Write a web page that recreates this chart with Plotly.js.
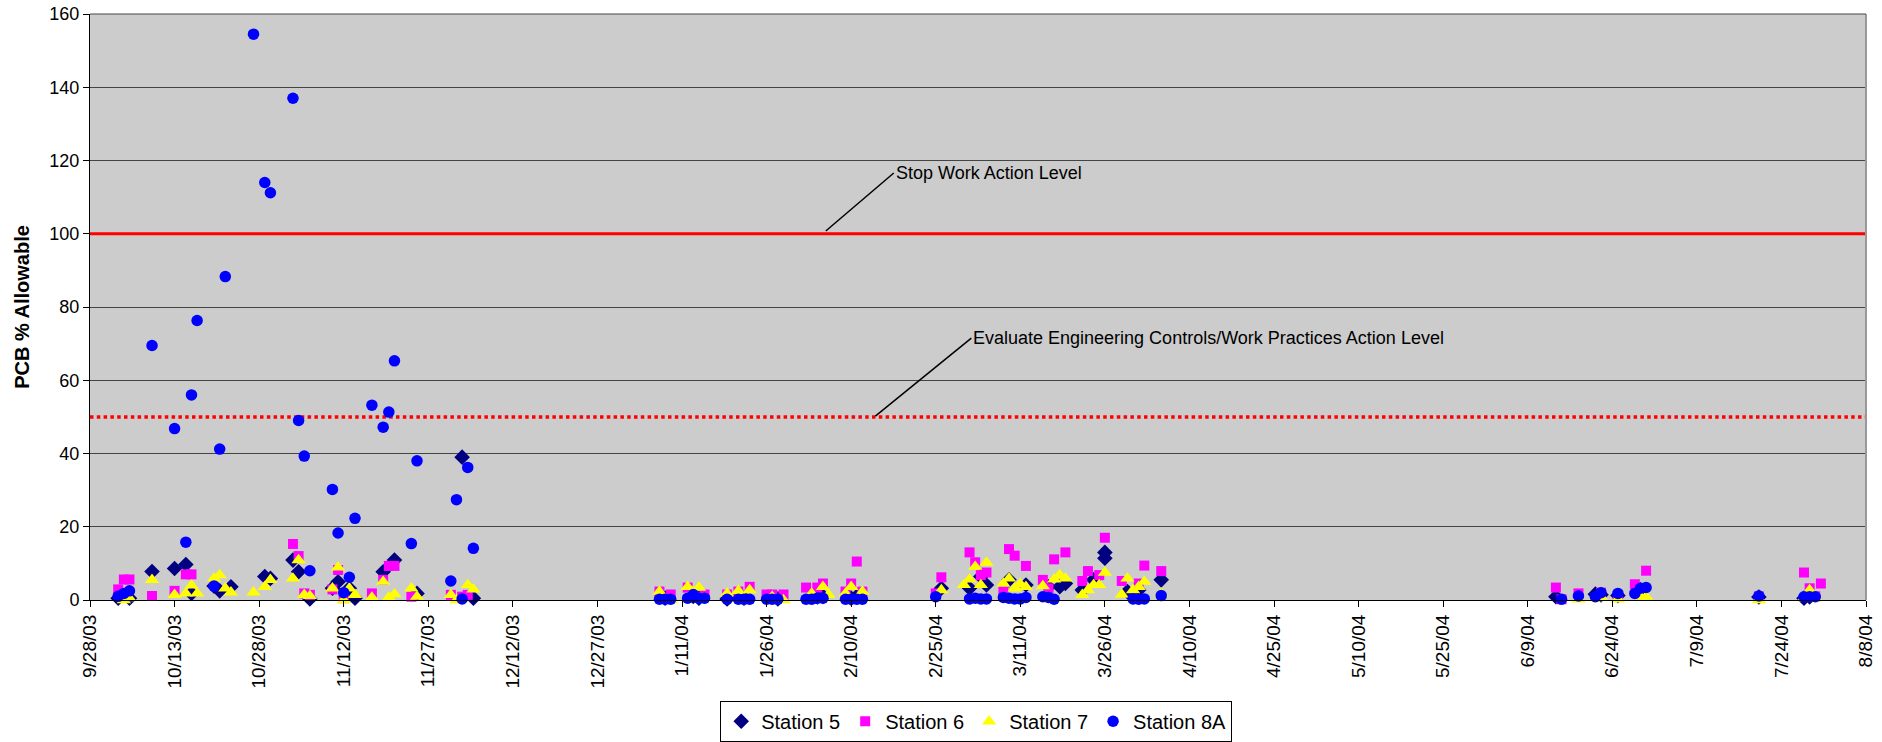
<!DOCTYPE html>
<html>
<head>
<meta charset="utf-8">
<script src="https://cdn.plot.ly/plotly-3.0.1.min.js"></script>
<style>
html,body{margin:0;padding:0;background:#ffffff;}
#chart{width:1882px;height:742px;}
</style>
</head>
<body>
<div id="chart"></div>
<script>
// ---------- tick labels ----------
const tickDates = ['2003-09-28','2003-10-13','2003-10-28','2003-11-12','2003-11-27','2003-12-12','2003-12-27',
  '2004-01-11','2004-01-26','2004-02-10','2004-02-25','2004-03-11','2004-03-26','2004-04-10','2004-04-25',
  '2004-05-10','2004-05-25','2004-06-09','2004-06-24','2004-07-09','2004-07-24','2004-08-08'];
const tickLabels = ['9/28/03','10/13/03','10/28/03','11/12/03','11/27/03','12/12/03','12/27/03',
  '1/11/04','1/26/04','2/10/04','2/25/04','3/11/04','3/26/04','4/10/04','4/25/04',
  '5/10/04','5/25/04','6/9/04','6/24/04','7/9/04','7/24/04','8/8/04'];
const yTickValues = [0,20,40,60,80,100,120,140,160];

// ---------- Station 5 ----------
const station5Dates = ['2003-10-03','2003-10-05','2003-10-09','2003-10-13','2003-10-15','2003-10-16','2003-10-20','2003-10-21','2003-10-23',
  '2003-10-29','2003-10-30','2003-11-03','2003-11-04','2003-11-06','2003-11-10','2003-11-11','2003-11-13','2003-11-14','2003-11-19','2003-11-21',
  '2003-11-25','2003-12-03','2003-12-05',
  '2004-01-08','2004-01-13','2004-01-14','2004-01-19','2004-01-22','2004-01-28','2004-02-04','2004-02-05','2004-02-10','2004-02-11',
  '2004-02-26','2004-03-02','2004-03-04','2004-03-05','2004-03-09','2004-03-12','2004-03-16','2004-03-18','2004-03-19','2004-03-22','2004-03-24',
  '2004-03-26','2004-03-26','2004-03-30','2004-03-31','2004-04-01','2004-04-05',
  '2004-06-14','2004-06-21','2004-06-22','2004-06-25','2004-06-29','2004-07-20','2004-07-28','2004-07-29'];
const station5Values = [0.5,0.5,7.8,8.6,9.7,1.8,3.8,2.5,3.6,
  6.4,5.9,10.9,7.7,0.3,3.2,5.0,3.2,0.5,7.7,10.9,
  1.8,39.0,0.5,
  0.5,1.0,0.5,0.3,0.5,0.3,0.8,1.0,0.5,1.0,
  3.2,3.2,6.4,4.1,5.5,4.1,3.6,3.6,4.5,2.7,5.5,
  11.4,13.0,2.3,0.9,2.7,5.5,
  0.9,1.6,1.4,1.2,2.8,0.8,0.5,0.8];

// ---------- Station 6 ----------
const station6Dates = ['2003-10-03','2003-10-04','2003-10-05','2003-10-09','2003-10-13','2003-10-15','2003-10-16','2003-11-03','2003-11-04',
  '2003-11-05','2003-11-06','2003-11-10','2003-11-11','2003-11-12','2003-11-17','2003-11-19','2003-11-20','2003-11-21','2003-11-24','2003-12-01',
  '2003-12-03','2003-12-04',
  '2004-01-07','2004-01-09','2004-01-12','2004-01-15','2004-01-19','2004-01-21','2004-01-23','2004-01-26','2004-01-27','2004-01-29',
  '2004-02-02','2004-02-04','2004-02-05','2004-02-09','2004-02-10','2004-02-11','2004-02-12',
  '2004-02-25','2004-02-26','2004-03-02','2004-03-03','2004-03-04','2004-03-05','2004-03-08','2004-03-09','2004-03-10','2004-03-12',
  '2004-03-15','2004-03-16','2004-03-17','2004-03-19','2004-03-22','2004-03-23','2004-03-25','2004-03-26','2004-03-29','2004-04-01',
  '2004-04-02','2004-04-05',
  '2004-06-14','2004-06-15','2004-06-18','2004-06-22','2004-06-25','2004-06-28','2004-06-30','2004-07-20','2004-07-28','2004-07-29',
  '2004-07-30','2004-07-31'];
const station6Values = [2.9,5.6,5.6,1.1,2.5,7.0,7.0,15.3,12.0,
  1.8,1.4,2.9,8.2,0.5,1.8,5.5,9.3,9.3,0.9,1.4,
  0.9,1.4,
  2.3,1.5,3.4,1.5,1.5,2.3,3.6,1.5,1.5,1.5,
  3.4,3.4,4.5,2.3,4.5,10.5,2.3,
  1.8,6.2,13.0,10.3,6.8,7.5,2.5,13.9,12.1,9.3,
  5.5,3.2,11.1,13.0,5.2,7.9,6.8,17.0,5.2,4.5,
  9.4,7.9,
  3.4,0.2,1.8,2.0,1.0,4.3,8.0,1.0,7.5,3.2,
  1.0,4.5];

// ---------- Station 7 ----------
const station7Dates = ['2003-10-04','2003-10-05','2003-10-09','2003-10-13','2003-10-15','2003-10-16','2003-10-17','2003-10-20','2003-10-21',
  '2003-10-22','2003-10-23','2003-10-27','2003-10-29','2003-10-30','2003-11-03','2003-11-04','2003-11-05','2003-11-06','2003-11-10','2003-11-11',
  '2003-11-12','2003-11-13','2003-11-14','2003-11-17','2003-11-19','2003-11-20','2003-11-21','2003-11-24','2003-11-25','2003-12-01',
  '2003-12-02','2003-12-04','2003-12-05',
  '2004-01-07','2004-01-09','2004-01-12','2004-01-13','2004-01-14','2004-01-19','2004-01-21','2004-01-23','2004-01-27','2004-01-29',
  '2004-02-03','2004-02-05','2004-02-06','2004-02-09','2004-02-10','2004-02-12',
  '2004-02-26','2004-03-01','2004-03-02','2004-03-03','2004-03-04','2004-03-05','2004-03-08','2004-03-09','2004-03-10','2004-03-11',
  '2004-03-12','2004-03-15','2004-03-17','2004-03-18','2004-03-19','2004-03-22','2004-03-23','2004-03-24','2004-03-25','2004-03-26',
  '2004-03-29','2004-03-30','2004-03-31','2004-04-01','2004-04-02','2004-04-05',
  '2004-06-18','2004-06-21','2004-06-22','2004-06-25','2004-06-29','2004-06-30','2004-07-20','2004-07-28','2004-07-29','2004-07-30'];
const station7Values = [0,0.5,5.5,1.4,1.8,4.0,1.8,5.9,6.8,
  3.2,2.1,2.1,3.6,5.5,5.9,10.9,1.4,1.1,3.2,8.9,
  0,3.2,1.4,0.7,5.0,0.7,1.6,3.2,0.9,1.4,
  0,4.1,2.9,
  2.3,0,3.6,2.3,3.4,1.8,2.5,2.7,0.9,0,
  1.8,3.6,1.4,1.8,3.6,2.3,
  2.7,4.1,5.6,9.1,4.1,10.2,4.5,5.9,3.2,4.4,
  3.6,3.8,5.6,6.8,5.9,1.4,2.7,4.1,4.1,7.5,
  1.5,5.9,2.7,3.6,5.0,1.8,
  0.2,0.5,0.8,0.2,1.0,0.9,0,0.5,2.7,0.5];

// ---------- Station 8A ----------
const station8ADates = ['2003-10-03','2003-10-04','2003-10-05','2003-10-09','2003-10-13','2003-10-15','2003-10-16','2003-10-17','2003-10-20',
  '2003-10-21','2003-10-22','2003-10-27','2003-10-29','2003-10-30','2003-11-03','2003-11-04','2003-11-05','2003-11-06','2003-11-10','2003-11-11',
  '2003-11-12','2003-11-13','2003-11-14','2003-11-17','2003-11-19','2003-11-20','2003-11-21','2003-11-24','2003-11-25','2003-12-01',
  '2003-12-02','2003-12-03','2003-12-04','2003-12-05',
  '2004-01-07','2004-01-08','2004-01-09','2004-01-12','2004-01-13','2004-01-14','2004-01-15','2004-01-19','2004-01-21','2004-01-22',
  '2004-01-23','2004-01-26','2004-01-27','2004-01-28','2004-02-02','2004-02-03','2004-02-04','2004-02-05','2004-02-09','2004-02-10',
  '2004-02-11','2004-02-12',
  '2004-02-25','2004-03-02','2004-03-03','2004-03-04','2004-03-05','2004-03-08','2004-03-09','2004-03-10','2004-03-11','2004-03-12',
  '2004-03-15','2004-03-16','2004-03-17','2004-03-31','2004-04-01','2004-04-02','2004-04-05',
  '2004-06-15','2004-06-18','2004-06-21','2004-06-22','2004-06-25','2004-06-28','2004-06-29','2004-06-30','2004-07-20','2004-07-28',
  '2004-07-29','2004-07-30'];
const station8AValues = [1.0,1.8,2.5,69.5,46.8,15.8,56.0,76.3,3.8,
  41.2,88.3,154.5,114.0,111.2,137.0,49.0,39.3,8.0,30.2,18.3,
  2.0,6.2,22.3,53.2,47.2,51.3,65.3,15.4,38.0,5.2,
  27.4,0.3,36.2,14.1,
  0.2,0.2,0.2,0.5,1.5,0.5,0.5,0.2,0.2,0.2,
  0.2,0.2,0.2,0.2,0.2,0.2,0.5,0.5,0.2,0.2,
  0.2,0.2,
  0.9,0.3,0.5,0.3,0.3,0.7,0.5,0.3,0.3,0.7,
  0.9,0.7,0.2,0.3,0.2,0.3,1.2,
  0.2,1.1,0.9,2.0,1.8,1.8,3.2,3.4,1.1,0.9,
  0.9,0.9];

// ---------- action levels ----------
const levelDates = ['2003-09-28','2004-08-08'];
const stopWorkLevel = [100,100];
const evaluateLevel = [50,50];

const FONT = 'Arial, "Liberation Sans", Helvetica, sans-serif';

const traces = [
  {x: levelDates, y: stopWorkLevel, type:'scatter', mode:'lines', showlegend:false, hoverinfo:'skip',
   line:{color:'#FF0000', width:3}},
  {x: levelDates, y: evaluateLevel, type:'scatter', mode:'lines', showlegend:false, hoverinfo:'skip',
   line:{color:'#FF0000', width:3.5, dash:'3.5px,3.3px'}},
  {x: station5Dates, y: station5Values, name:'Station 5', type:'scatter', mode:'markers', cliponaxis:false,
   marker:{symbol:'diamond', size:12, color:'#000080'}},
  {x: station6Dates, y: station6Values, name:'Station 6', type:'scatter', mode:'markers', cliponaxis:false,
   marker:{symbol:'square', size:10, color:'#FF00FF'}},
  {x: station7Dates, y: station7Values, name:'Station 7', type:'scatter', mode:'markers', cliponaxis:false,
   marker:{symbol:'triangle-up', size:12.5, color:'#FFFF00'}},
  {x: station8ADates, y: station8AValues, name:'Station 8A', type:'scatter', mode:'markers', cliponaxis:false,
   marker:{symbol:'circle', size:11.5, color:'#0000FF'}}
];

const layout = {
  width:1882, height:742,
  margin:{l:90, r:16, t:14, b:142, pad:0, autoexpand:false},
  paper_bgcolor:'#FFFFFF',
  plot_bgcolor:'#CCCCCC',
  font:{family:FONT, color:'#000000'},
  showlegend:true,
  legend:{orientation:'h', x:0.499, xanchor:'center', y:-0.172, yanchor:'top',
    bgcolor:'#FFFFFF', bordercolor:'#000000', borderwidth:1,
    font:{family:FONT, size:20, color:'#000000'}, itemwidth:30, traceorder:'normal'},
  xaxis:{
    type:'date', range:['2003-09-28','2004-08-08'],
    tickmode:'array', tickvals:tickDates, ticktext:tickLabels,
    tickangle:-90, tickfont:{family:FONT, size:19, color:'#000000'},
    ticks:'outside', ticklen:6, tickcolor:'#000000', tickwidth:1,
    showgrid:false, zeroline:false, showline:true, linecolor:'#000000', linewidth:1,
    automargin:false
  },
  yaxis:{
    range:[0,160], tickmode:'array', tickvals:yTickValues,
    tickfont:{family:FONT, size:18, color:'#000000'},
    ticks:'outside', ticklen:6, tickcolor:'#000000', tickwidth:1,
    showgrid:true, gridcolor:'#444444', gridwidth:1,
    zeroline:false, showline:true, linecolor:'#000000', linewidth:1,
    title:{text:'PCB % Allowable', font:{family:FONT, size:20, color:'#000000', weight:'bold'}, standoff:14},
    automargin:false
  },
  shapes:[
    {type:'line', xref:'paper', yref:'paper', x0:1, x1:1, y0:0, y1:1, line:{color:'#999999', width:2}},
    {type:'line', xref:'paper', yref:'paper', x0:0, x1:1, y0:1, y1:1, line:{color:'#444444', width:1}}
  ],
  annotations:[
    {x:'2004-02-05 12:00', y:100.75, xref:'x', yref:'y', text:'Stop Work Action Level',
     showarrow:true, arrowhead:0, arrowwidth:1.5, arrowcolor:'#000000', ax:68, ay:-58,
     xanchor:'left', yanchor:'middle', font:{family:FONT, size:18, color:'#000000'}},
    {x:'2004-02-14 07:00', y:50.2, xref:'x', yref:'y', text:'Evaluate Engineering Controls/Work Practices Action Level',
     showarrow:true, arrowhead:0, arrowwidth:1.5, arrowcolor:'#000000', ax:96, ay:-78,
     xanchor:'left', yanchor:'middle', font:{family:FONT, size:18, color:'#000000'}}
  ]
};

Plotly.newPlot('chart', traces, layout, {displayModeBar:false, staticPlot:true});
</script>
</body>
</html>
